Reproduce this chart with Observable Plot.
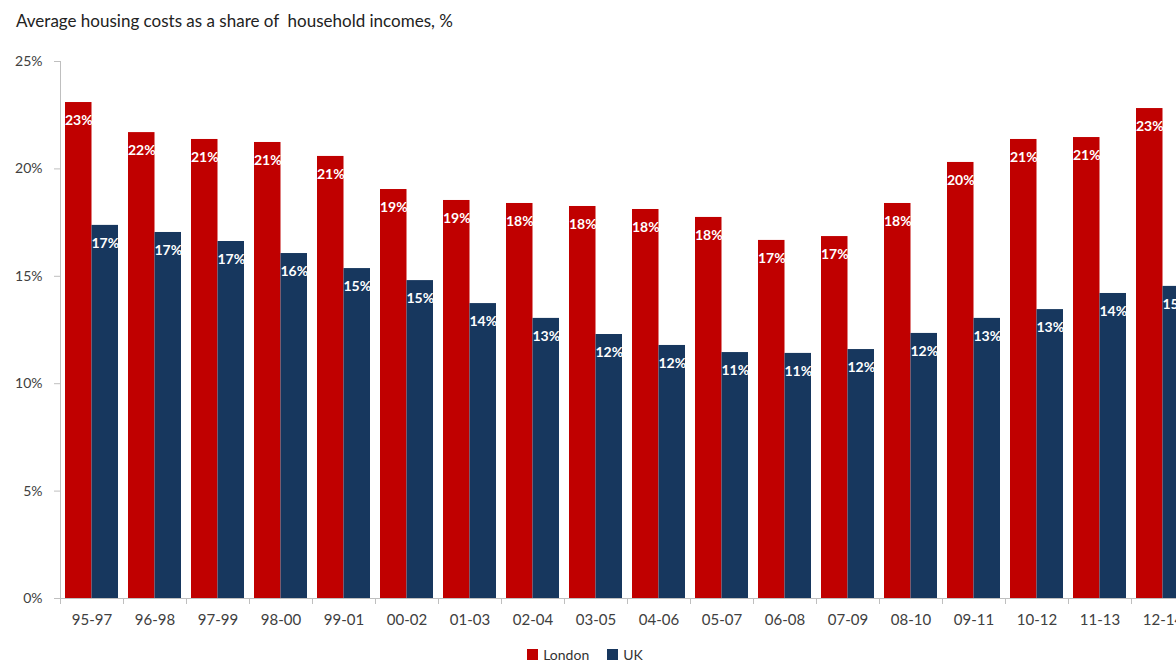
<!DOCTYPE html>
<html>
<head>
<meta charset="utf-8">
<script src="https://cdn.jsdelivr.net/npm/d3@7"></script>
<script src="https://cdn.jsdelivr.net/npm/@observablehq/plot@0.6"></script>
<style>
  html, body { margin: 0; padding: 0; background: #fff; overflow: hidden; width: 1176px; height: 662px; }
  body { position: relative; font-family: Lato, "Open Sans", sans-serif; }
  #title { position: absolute; left: 16px; top: 10px; font-size: 17px; color: #222; white-space: pre; z-index: 2; }
  #chart { position: absolute; left: 0; top: 0; width: 1210px; }
  #chart svg { max-width: none !important; }
  #legend { position: absolute; left: 0; width: 1170px; top: 646px; display: flex; justify-content: center; gap: 18px; font-size: 14px; color: #333; padding-left: 0; }
  #legend span.item { display: flex; align-items: center; gap: 5px; }
  #legend span.sw { display: inline-block; width: 11px; height: 11px; }
</style>
</head>
<body>
<div id="title">Average housing costs as a share of  household incomes, %</div>
<div id="chart"></div>
<div id="legend"></div>
<script>
const categories = ["95-97","96-98","97-99","98-00","99-01","00-02","01-03","02-04","03-05","04-06","05-07","06-08","07-09","08-10","09-11","10-12","11-13","12-14"];
const london = [23.09,21.69,21.37,21.23,20.58,19.04,18.53,18.39,18.25,18.11,17.74,16.67,16.85,18.39,20.30,21.37,21.46,22.81];
const uk = [17.37,17.04,16.62,16.06,15.36,14.80,13.73,13.04,12.29,11.78,11.45,11.41,11.59,12.34,13.04,13.45,14.20,14.53];
const seriesNames = ["London","UK"];
const colors = ["#C00000","#17375E"];
const yTicks = [0,5,10,15,20,25];

const londonData = categories.map((c,i)=>({cat:c, value: london[i]}));
const ukData = categories.map((c,i)=>({cat:c, value: uk[i]}));

const width = 1202, marginLeft = 60, marginRight = 8;
const bw = (width - marginLeft - marginRight) / categories.length;
const gap = 10;
const barW = (bw - gap) / 2;

const chart = Plot.plot({
  width, height: 640,
  marginLeft, marginRight, marginTop: 61, marginBottom: 42,
  style: { fontFamily: "Lato, 'Open Sans', sans-serif", background: "transparent", overflow: "visible", maxWidth: "none" },
  x: { domain: categories, padding: 0, axis: null, label: null },
  y: { domain: [0,25], axis: null, label: null },
  marks: [
    Plot.barY(londonData, { x: "cat", y: "value", fill: colors[0], insetLeft: gap/2, insetRight: gap/2 + barW }),
    Plot.barY(ukData, { x: "cat", y: "value", fill: colors[1], insetLeft: gap/2 + barW, insetRight: gap/2 }),
    Plot.text(londonData, { x: "cat", y: "value", text: d => Math.round(d.value) + "%", dx: -barW/2, dy: 18, fill: "white", fontWeight: "bold", fontSize: 14 }),
    Plot.text(ukData, { x: "cat", y: "value", text: d => Math.round(d.value) + "%", dx: barW/2, dy: 18, fill: "white", fontWeight: "bold", fontSize: 14 }),
    Plot.ruleY([0], { stroke: "#bfbfbf" }),
    Plot.ruleX([categories[0]], { dx: -bw/2, y1: 0, y2: 25, stroke: "#bfbfbf" }),
    Plot.axisY({ ticks: yTicks, tickFormat: d => d + "%", tickSize: 6, tickPadding: 12, stroke: "#bfbfbf", fill: "#404040", fontSize: 14, label: null }),
    Plot.axisX({ tickSize: 6, tickFormat: () => "", dx: -bw/2, stroke: "#bfbfbf", label: null }),
    Plot.axisX({ tickSize: 0, tickPadding: 16, fill: "#404040", fontSize: 15, label: null })
  ]
});
document.getElementById("chart").appendChild(chart);

const legend = document.getElementById("legend");
seriesNames.forEach((s,i) => {
  const item = document.createElement("span");
  item.className = "item";
  item.innerHTML = `<span class="sw" style="background:${colors[i]}"></span>${s}`;
  legend.appendChild(item);
});
</script>
</body>
</html>
